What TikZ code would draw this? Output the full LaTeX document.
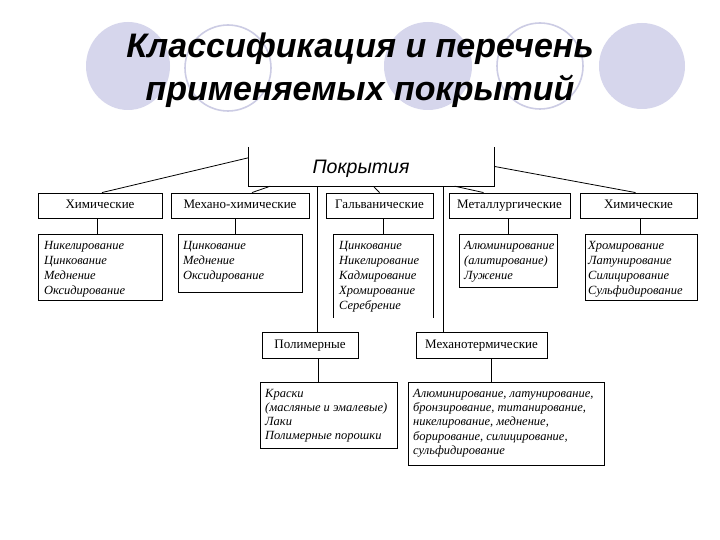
\documentclass[tikz,border=0pt]{standalone}
\usepackage{fontspec}
\setmainfont{Liberation Serif}
\newfontfamily\titlefont{Liberation Sans}
\usetikzlibrary{calc}
\definecolor{lavfill}{RGB}{214,214,236}
\definecolor{lavline}{RGB}{204,204,228}
\begin{document}
\begin{tikzpicture}[x=1pt,y=-1pt,
  hdr/.style={draw, line width=0.9pt, minimum height=25pt, inner sep=0pt,
    text height=9pt, text depth=3pt, font=\fontsize{13}{15}\selectfont},
  lstbox/.style={draw, line width=0.9pt, anchor=north west, inner sep=0pt},
  lsttext/.style={anchor=north west, align=left, inner sep=0pt,
    font=\fontsize{12.5}{15}\selectfont\itshape},
  lsttextb/.style={lsttext, font=\fontsize{12.5}{14.2}\selectfont\itshape},
  conn/.style={line width=0.8pt},
  titletext/.style={anchor=base, inner sep=0pt,
    font=\titlefont\bfseries\itshape\fontsize{34}{40}\selectfont},
  bubfill/.style={fill=lavfill, draw=none},
  bubline/.style={draw=lavline, line width=1.6pt, fill=white}]
\useasboundingbox[fill=white] (0,0) rectangle (720,540);

% decorative circles
\path[bubfill] (128,66) ellipse [x radius=42, y radius=44];
\path[bubline] (228,68) circle [radius=43];
\path[bubfill] (428,66) circle [radius=44];
\path[bubline] (540,66) circle [radius=43];
\path[bubfill] (642,66) circle [radius=43];

% title
\node[titletext] (t1) at (360,58) {Классификация и перечень};
\node[titletext] (t2) at (360,101) {применяемых покрытий};

% root box (open at the top)
\node[minimum width=246pt, minimum height=39pt, inner sep=0pt] (P) at (371.5,166.5) {};
\draw[conn] (P.north west) -- (P.south west) -- (P.south east) -- (P.north east);
\node[anchor=base, inner sep=0pt, font=\titlefont\itshape\fontsize{19.5}{22}\selectfont] (Pt) at (361,174) {Покрытия};

% headers
\node[hdr, minimum width=124pt] (h1) at (100,205.5) {Химические};
\node[hdr, minimum width=138pt] (h2) at (240,205.5) {Механо-химические};
\node[hdr, minimum width=107pt] (h3) at (379.5,205.5) {Гальванические};
\node[hdr, minimum width=121pt] (h4) at (509.5,205.5) {Металлургические};
\node[hdr, minimum width=117pt] (h5) at (638.5,205.5) {Химические};
\node[hdr, minimum width=96pt, minimum height=26pt] (hp) at (310,345) {Полимерные};
\node[hdr, minimum width=131pt, minimum height=26pt] (hm) at (481.5,345) {Механотермические};

% list boxes
\node[lstbox, minimum width=124pt, minimum height=66pt] (l1) at (38,234) {};
\node[lstbox, minimum width=124pt, minimum height=58pt] (l2) at (178,234) {};
\node[lstbox, draw=none, minimum width=100pt, minimum height=83pt] (l3) at (333,234) {};
\draw[conn, line width=0.9pt] (l3.south west) -- (l3.north west) -- (l3.north east) -- (l3.south east);
\node[lstbox, minimum width=98pt, minimum height=53pt] (l4) at (459,234) {};
\node[lstbox, minimum width=112pt, minimum height=66pt] (l5) at (585,234) {};
\node[lstbox, minimum width=137pt, minimum height=66pt] (lp) at (260,382) {};
\node[lstbox, minimum width=196pt, minimum height=83pt] (lm) at (408,382) {};

% list texts
\node[lsttext] (l1t) at ($(l1.north west)+(6,7)$) {Никелирование\\Цинкование\\Меднение\\Оксидирование};
\node[lsttext] (l2t) at ($(l2.north west)+(5,7)$) {Цинкование\\Меднение\\Оксидирование};
\node[lsttext] (l3t) at ($(l3.north west)+(6,7)$) {Цинкование\\Никелирование\\Кадмирование\\Хромирование\\Серебрение};
\node[lsttext] (l4t) at ($(l4.north west)+(5,7)$) {Алюминирование\\(алитирование)\\Лужение};
\node[lsttext] (l5t) at ($(l5.north west)+(3,7)$) {Хромирование\\Латунирование\\Силицирование\\Сульфидирование};
\node[lsttextb] (lpt) at ($(lp.north west)+(5,7)$) {Краски\\(масляные и эмалевые)\\Лаки\\Полимерные порошки};
\node[lsttextb] (lmt) at ($(lm.north west)+(5,7)$) {Алюминирование, латунирование,\\бронзирование, титанирование,\\никелирование, меднение,\\борирование, силицирование,\\сульфидирование};

% connectors from root
\draw[conn] ($(P.north west)+(0,11)$) -- ($(h1.north)+(2,0)$);
\draw[conn] ($(P.south west)+(22,0)$) -- ($(h2.north)+(12,0)$);
\draw[conn] ($(P.south west)+(125,0)$) -- (h3.north);
\draw[conn] ($(P.south east)+(-40,0)$) -- ($(h4.north)+(-26,0)$);
\draw[conn] (P.east) -- ($(h5.north)+(-3,0)$);
\draw[conn] ($(P.south west)+(69.5,0)$) coordinate (v1) -- (v1 |- hp.north);
\draw[conn] ($(P.south west)+(195.5,0)$) coordinate (v2) -- (v2 |- hm.north);

% connectors header -> list
\draw[conn] ($(h1.south)+(-3,0)$) coordinate (c1) -- (c1 |- l1.north);
\draw[conn] ($(h2.south)+(-5,0)$) coordinate (c2) -- (c2 |- l2.north);
\draw[conn] ($(h3.south)+(3.5,0)$) coordinate (c3) -- (c3 |- l3.north);
\draw[conn] ($(h4.south)+(-1.5,0)$) coordinate (c4) -- (c4 |- l4.north);
\draw[conn] ($(h5.south)+(1.5,0)$) coordinate (c5) -- (c5 |- l5.north);
\draw[conn] ($(hp.south)+(8.5,0)$) coordinate (cp) -- (cp |- lp.north);
\draw[conn] ($(hm.south)+(9.5,0)$) coordinate (cm) -- (cm |- lm.north);
\end{tikzpicture}
\end{document}
